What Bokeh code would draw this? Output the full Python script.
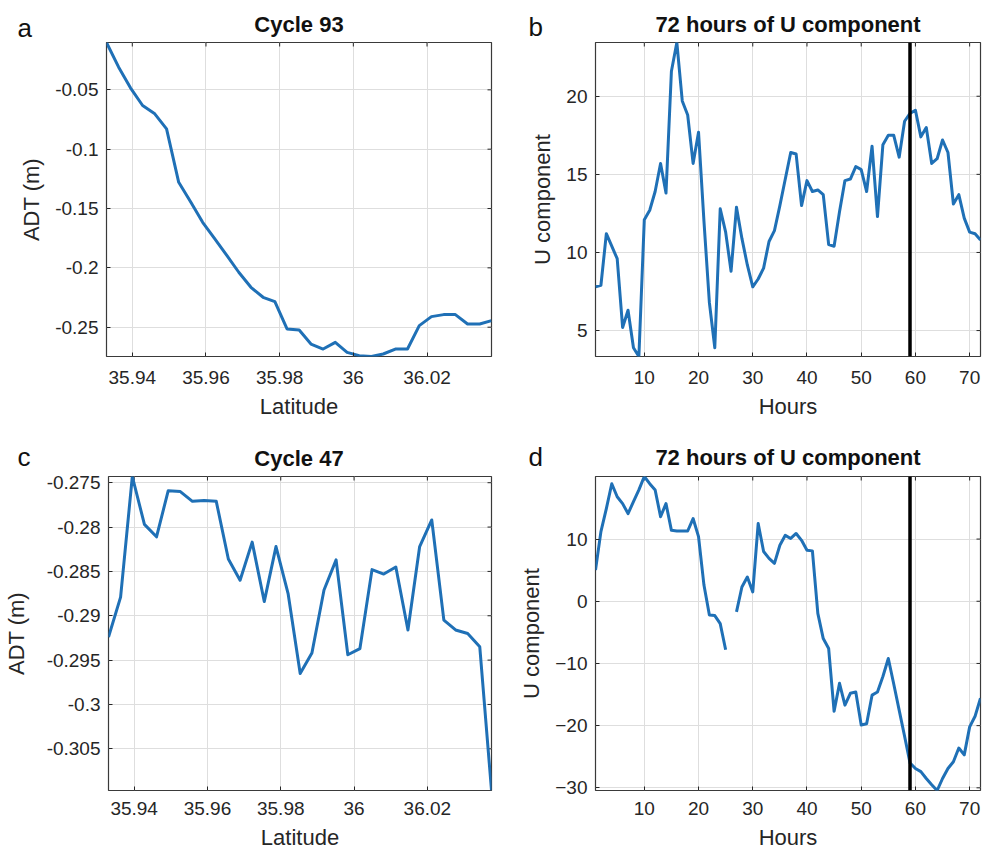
from bokeh.plotting import figure
from bokeh.models import Range1d, FixedTicker, Span, Label
from bokeh.layouts import column, row
from bokeh.embed import file_html
from bokeh.resources import INLINE

# ---------------- data ----------------
latitude = [35.9330, 35.9363, 35.9395, 35.9428, 35.9461, 35.9493, 35.9526, 35.9559,
            35.9591, 35.9624, 35.9657, 35.9689, 35.9722, 35.9755, 35.9787, 35.9820,
            35.9853, 35.9885, 35.9918, 35.9951, 35.9983, 36.0016, 36.0049, 36.0081,
            36.0114, 36.0147, 36.0179, 36.0212, 36.0245, 36.0277, 36.0310, 36.0343,
            36.0375]

adt_cycle93 = [-0.0101, -0.0309, -0.0483, -0.0632, -0.0702, -0.0829, -0.1279, -0.1447,
               -0.1616, -0.1756, -0.1897, -0.2037, -0.2164, -0.2248, -0.2285, -0.2515,
               -0.2524, -0.2642, -0.2684, -0.2628, -0.2712, -0.2740, -0.2747, -0.2726,
               -0.2684, -0.2684, -0.2487, -0.2411, -0.2394, -0.2394, -0.2473, -0.2473,
               -0.2445]

adt_cycle47 = [-0.2924, -0.2879, -0.2743, -0.2797, -0.2811, -0.2759, -0.2760, -0.2771,
               -0.2770, -0.2771, -0.2836, -0.2860, -0.2817, -0.2884, -0.2822, -0.2875,
               -0.2965, -0.2942, -0.2871, -0.2837, -0.2944, -0.2937, -0.2848, -0.2853,
               -0.2845, -0.2916, -0.2822, -0.2792, -0.2905, -0.2916, -0.2920, -0.2935,
               -0.3097]

hours = list(range(1, 73))

u_cycle93 = [7.8, 7.9, 11.2, 10.4, 9.6, 5.2, 6.3, 3.9, 3.34, 12.1,
             12.7, 13.9, 15.7, 13.8, 21.6, 23.44, 19.7, 18.8, 15.7, 17.7,
             12.0, 6.8, 3.9, 12.8, 11.3, 8.8, 12.9, 10.9, 9.2, 7.8,
             8.3, 9.0, 10.7, 11.4, 13.0, 14.7, 16.4, 16.3, 13.0, 14.6,
             13.9, 14.0, 13.7, 10.5, 10.4, 12.6, 14.6, 14.7, 15.5, 15.3,
             13.9, 16.8, 12.3, 16.9, 17.5, 17.5, 16.1, 18.4, 18.9, 19.1,
             17.4, 18.0, 15.7, 16.0, 17.2, 16.4, 13.1, 13.7, 12.2, 11.3,
             11.2, 10.8]

u_cycle47 = [5.0, 11.2, 14.9, 18.9, 16.8, 15.7, 14.1, 16.0, 17.9, 20.06,
             18.9, 17.9, 13.6, 15.7, 11.4, 11.3, 11.3, 11.3, 13.3, 10.4,
             2.6, -2.2, -2.3, -3.6, -7.8, float("nan"), -1.7, 2.3, 3.9, 1.5,
             12.5, 8.0, 6.9, 6.1, 9.0, 10.6, 10.1, 10.9, 9.8, 8.2,
             8.1, -1.95, -6.0, -7.6, -17.7, -13.2, -16.7, -14.8, -14.6, -19.9,
             -19.7, -15.1, -14.6, -12.1, -9.2, -13.3, -17.5, -21.7, -26.0, -26.9,
             -27.4, -28.5, -29.5, -30.43, -28.5, -26.9, -25.8, -23.6, -24.7, -20.2,
             -18.5, -15.6]

marker_hour = 59

lat_ticks = [35.94, 35.96, 35.98, 36.0, 36.02]
lat_tick_labels = ["35.94", "35.96", "35.98", "36", "36.02"]
hour_ticks = [10, 20, 30, 40, 50, 60, 70]
adt93_ticks = [-0.25, -0.2, -0.15, -0.1, -0.05]
adt93_labels = ["-0.25", "-0.2", "-0.15", "-0.1", "-0.05"]
adt47_ticks = [-0.305, -0.3, -0.295, -0.29, -0.285, -0.28, -0.275]
adt47_labels = ["-0.305", "-0.3", "-0.295", "-0.29", "-0.285", "-0.28", "-0.275"]
u93_ticks = [5, 10, 15, 20]
u47_ticks = [-30, -20, -10, 0, 10]

titles = ["Cycle 93", "72 hours of U component", "Cycle 47", "72 hours of U component"]
panel_letters = ["a", "b", "c", "d"]

# ---------------- style ----------------
LINE = "#1f70b6"
TXT = "#262626"
FONT = "Liberation Sans"
GRID = "#dedede"
FRAME_W = 385
FRAME_H = 314
TICK_LEN = 4


def make_strip(width, height, letter, letter_x, letter_mid, title, title_cx, title_mid):
    """Header strip above a panel holding its letter and its bold title (pixel coords,
    y measured downward from the strip's top, text vertically centred on y)."""
    s = figure(width=width, height=height, x_range=Range1d(0, width),
               y_range=Range1d(height, 0), x_axis_type=None, y_axis_type=None,
               output_backend="svg", toolbar_location=None, tools="",
               min_border=0, outline_line_color=None)
    s.background_fill_color = "white"
    s.border_fill_color = "white"
    s.add_layout(Label(x=letter_x, y=letter_mid, text=letter, text_font=FONT,
                       text_font_size="26px", text_color="#111111", text_align="left",
                       text_baseline="middle"))
    s.add_layout(Label(x=title_cx, y=title_mid, text=title, text_font=FONT,
                       text_font_size="22px", text_font_style="bold",
                       text_color="#111111", text_align="center",
                       text_baseline="middle"))
    return s


def make_panel(x, y, xr, yr, xticks, xlabels, yticks, ylabels, xlabel, ylabel,
               width, height, bl, br, bt, bb, xstand, xlstand, ylstand, vline=None):
    p = figure(width=width, height=height, x_range=Range1d(*xr), y_range=Range1d(*yr),
               output_backend="svg", toolbar_location=None, tools="",
               min_border_left=bl, min_border_right=br, min_border_top=bt,
               min_border_bottom=bb)
    p.background_fill_color = "white"
    p.border_fill_color = "white"
    p.outline_line_color = "#3a3a3a"
    p.outline_line_width = 1.2

    xa = p.xaxis[0]
    ya = p.yaxis[0]
    xa.ticker = FixedTicker(ticks=xticks)
    ya.ticker = FixedTicker(ticks=yticks)
    if xlabels is not None:
        xa.major_label_overrides = {t: s for t, s in zip(xticks, xlabels)}
    if ylabels is not None:
        ya.major_label_overrides = {t: s for t, s in zip(yticks, ylabels)}
    for ax in (xa, ya):
        ax.axis_line_color = None
        ax.major_tick_in = TICK_LEN
        ax.major_tick_out = 0
        ax.major_tick_line_color = TXT
        ax.minor_tick_line_color = None
        ax.major_label_text_font = FONT
        ax.major_label_text_font_size = "19px"
        ax.major_label_text_color = TXT
        ax.axis_label_text_font = FONT
        ax.axis_label_text_font_size = "22px"
        ax.axis_label_text_font_style = "normal"
        ax.axis_label_text_color = TXT
    xa.axis_label = xlabel
    ya.axis_label = ylabel
    xa.major_label_standoff = xstand
    ya.major_label_standoff = 8
    xa.axis_label_standoff = xlstand
    ya.axis_label_standoff = ylstand

    p.xgrid.ticker = FixedTicker(ticks=xticks)
    p.ygrid.ticker = FixedTicker(ticks=yticks)
    p.xgrid.grid_line_color = GRID
    p.ygrid.grid_line_color = GRID
    p.xgrid.grid_line_width = 1
    p.ygrid.grid_line_width = 1

    # inward tick marks on the top and right edges (boxed axes)
    dy = (yr[1] - yr[0]) * TICK_LEN / FRAME_H
    dx = (xr[1] - xr[0]) * TICK_LEN / FRAME_W
    p.segment(x0=xticks, y0=[yr[1]] * len(xticks), x1=xticks,
              y1=[yr[1] - dy] * len(xticks), line_color=TXT, line_width=1)
    p.segment(x0=[xr[1]] * len(yticks), y0=yticks, x1=[xr[1] - dx] * len(yticks),
              y1=yticks, line_color=TXT, line_width=1)

    p.line(x, y, line_color=LINE, line_width=3, line_join="round")
    if vline is not None:
        p.add_layout(Span(location=vline, dimension="height", line_color="black",
                          line_width=3.5))
    return p


lat_range = (min(latitude), max(latitude))
hour_range = (min(hours), max(hours))
u47_valid = [v for v in u_cycle47 if v == v]

# header strips (letter + title)
sa = make_strip(493, 42, panel_letters[0], 17, 27.5, titles[0], 298.5, 24.4)
sb = make_strip(489, 42, panel_letters[1], 35, 26.5, titles[1], 294.5, 24.4)
sc = make_strip(493, 42, panel_letters[2], 17, 27.0, titles[2], 298.5, 29.0)
sd = make_strip(489, 42, panel_letters[3], 35, 27.5, titles[3], 294.5, 28.4)

pa = make_panel(latitude, adt_cycle93, lat_range, (min(adt_cycle93), max(adt_cycle93)),
                lat_ticks, lat_tick_labels, adt93_ticks, adt93_labels,
                "Latitude", "ADT (m)", 493, 387, 106, 2, 0, 73, 14, 7, 8)
pb = make_panel(hours, u_cycle93, hour_range, (min(u_cycle93), max(u_cycle93)),
                hour_ticks, None, u93_ticks, None,
                "Hours", "U component", 489, 387, 102, 2, 0, 73, 14, 7, 8,
                vline=marker_hour)
pc = make_panel(latitude, adt_cycle47, lat_range, (min(adt_cycle47), max(adt_cycle47)),
                lat_ticks, lat_tick_labels, adt47_ticks, adt47_labels,
                "Latitude", "ADT (m)", 493, 383, 106, 2, 5, 64, 11, 7, 15)
pd_ = make_panel(hours, u_cycle47, hour_range, (min(u47_valid), max(u47_valid)),
                 hour_ticks, None, u47_ticks, None,
                 "Hours", "U component", 489, 383, 102, 2, 5, 64, 11, 7, 8,
                 vline=marker_hour)

layout = column(row(sa, sb), row(pa, pb), row(sc, sd), row(pc, pd_))

open("out.html", "w").write(file_html(layout, INLINE))
